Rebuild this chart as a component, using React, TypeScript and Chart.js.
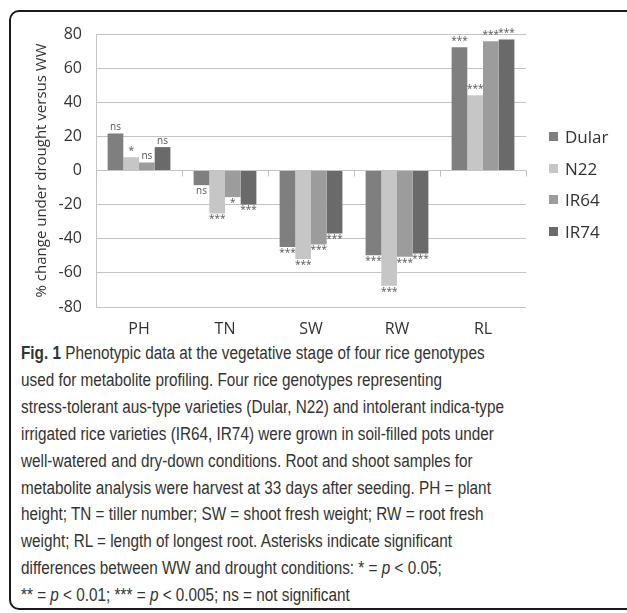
import React, { useEffect, useRef } from "react";
import { Chart, registerables } from "chart.js";

Chart.register(...registerables);

const categories = ["PH", "TN", "SW", "RW", "RL"];
const seriesNames = ["Dular", "N22", "IR64", "IR74"];
const seriesColors = ["#7f7f7f", "#c6c6c6", "#9c9c9c", "#6a6a6a"];
const dularValues = [21.7, -8.6, -44.8, -49.6, 72.3];
const n22Values = [7.8, -25.2, -51.8, -67.6, 44.1];
const ir64Values = [4.7, -15.6, -43.4, -50.6, 75.8];
const ir74Values = [13.7, -19.9, -36.9, -48.6, 76.8];
const dularSig = ["ns", "ns", "***", "***", "***"];
const n22Sig = ["*", "***", "***", "***", "***"];
const ir64Sig = ["ns", "*", "***", "***", "***"];
const ir74Sig = ["ns", "***", "***", "***", "***"];
const yTicks = [-80, -60, -40, -20, 0, 20, 40, 60, 80];
const yTitle = "% change under drought versus WW";

const captionLines: React.ReactNode[] = [
  <><b>Fig. 1</b> Phenotypic data at the vegetative stage of four rice genotypes</>,
  <>used for metabolite profiling. Four rice genotypes representing</>,
  <>stress-tolerant aus-type varieties (Dular, N22) and intolerant indica-type</>,
  <>irrigated rice varieties (IR64, IR74) were grown in soil-filled pots under</>,
  <>well-watered and dry-down conditions. Root and shoot samples for</>,
  <>metabolite analysis were harvest at 33 days after seeding. PH = plant</>,
  <>height; TN = tiller number; SW = shoot fresh weight; RW = root fresh</>,
  <>weight; RL = length of longest root. Asterisks indicate significant</>,
  <>differences between WW and drought conditions: * = <i>p</i> &lt; 0.05;</>,
  <>** = <i>p</i> &lt; 0.01; *** = <i>p</i> &lt; 0.005; ns = not significant</>,
];

const allValues = [dularValues, n22Values, ir64Values, ir74Values];
const allSig = [dularSig, n22Sig, ir64Sig, ir74Sig];

const CHART_FONT = "'Open Sans', 'DejaVu Sans', sans-serif";

const sigPlugin = {
  id: "sigLabels",
  afterDatasetsDraw(chart: any) {
    const ctx = chart.ctx;
    ctx.save();
    ctx.font = "10px " + CHART_FONT;
    ctx.fillStyle = "#555";
    ctx.textAlign = "center";
    chart.data.datasets.forEach((ds: any, i: number) => {
      const meta = chart.getDatasetMeta(i);
      meta.data.forEach((el: any, j: number) => {
        const v = ds.data[j];
        const txt = allSig[i][j];
        if (v >= 0) {
          ctx.textBaseline = "bottom";
          ctx.fillText(txt, el.x, el.y - 1);
        } else {
          ctx.textBaseline = "top";
          ctx.fillText(txt, el.x, el.y + 1);
        }
      });
    });
    const xs = chart.scales.x;
    const ys = chart.scales.y;
    const y0 = ys.getPixelForValue(0);
    const n = categories.length;
    const w = (xs.right - xs.left) / n;
    ctx.strokeStyle = "#bfbfbf";
    ctx.lineWidth = 1;
    for (let k = 0; k <= n; k++) {
      const x = Math.round(xs.left + k * w) + 0.5;
      ctx.beginPath();
      ctx.moveTo(x, y0);
      ctx.lineTo(x, y0 + 6);
      ctx.stroke();
    }
    ctx.restore();
  },
};

function BarChart() {
  const ref = useRef<HTMLCanvasElement>(null);
  useEffect(() => {
    if (!ref.current) return;
    const chart = new Chart(ref.current, {
      type: "bar",
      data: {
        labels: categories,
        datasets: seriesNames.map((name, i) => ({
          label: name,
          data: allValues[i],
          backgroundColor: seriesColors[i],
          borderWidth: 0,
          barPercentage: 1,
          categoryPercentage: 0.73,
        })),
      },
      options: {
        responsive: false,
        animation: false,
        layout: { autoPadding: false, padding: { left: 33, right: 101, top: 34, bottom: 0 } },
        plugins: { legend: { display: false }, tooltip: { enabled: false } },
        scales: {
          x: {
            grid: { display: false },
            border: { display: false },
            ticks: { color: "#333", font: { size: 16, family: CHART_FONT }, padding: 5 },
            afterFit: (s: any) => { s.height = 33; },
          },
          y: {
            min: -80,
            max: 80,
            afterBuildTicks: (s: any) => { s.ticks = yTicks.map((v) => ({ value: v })); },
            grid: { color: "#c4c4c4", drawTicks: false },
            border: { color: "#c4c4c4" },
            ticks: { color: "#333", font: { size: 16, family: CHART_FONT }, padding: 14 },
            title: { display: true, text: yTitle, color: "#333", font: { size: 15, family: CHART_FONT }, padding: 0 },
            afterFit: (s: any) => { s.width = 63; },
          },
        },
      },
      plugins: [sigPlugin],
    });
    return () => chart.destroy();
  }, []);
  return (
    <canvas ref={ref} width={627} height={340} style={{ position: "absolute", left: 0, top: 0 }} />
  );
}

export default function App() {
  const legendY = [136, 168, 199, 231];
  return (
    <div style={{ position: "absolute", left: 0, top: 0, width: 627, height: 613, overflow: "hidden", background: "#fff" }}>
      <div
        style={{
          position: "absolute",
          left: 9,
          top: 10,
          width: 640,
          height: 600,
          border: "2px solid #1a1a1a",
          borderRadius: "10px 0 0 10px",
          boxSizing: "border-box",
        }}
      />
      <BarChart />
      {seriesNames.map((name, i) => (
        <div key={name} style={{ position: "absolute", left: 549, top: legendY[i] - 11, height: 22, display: "flex", alignItems: "center", fontFamily: CHART_FONT, fontSize: 17, color: "#333" }}>
          <span style={{ display: "inline-block", width: 9, height: 9, background: seriesColors[i], marginRight: 7 }} />
          {name}
        </div>
      ))}
      <div
        style={{
          position: "absolute",
          left: 21,
          top: 340,
          fontFamily: "'Liberation Sans', sans-serif",
          fontSize: 18,
          lineHeight: "26.9px",
          color: "#333",
          whiteSpace: "nowrap",
          transform: "scaleX(0.85)",
          transformOrigin: "0 0",
        }}
      >
        {captionLines.map((l, i) => (
          <div key={i}>{l}</div>
        ))}
      </div>
    </div>
  );
}
